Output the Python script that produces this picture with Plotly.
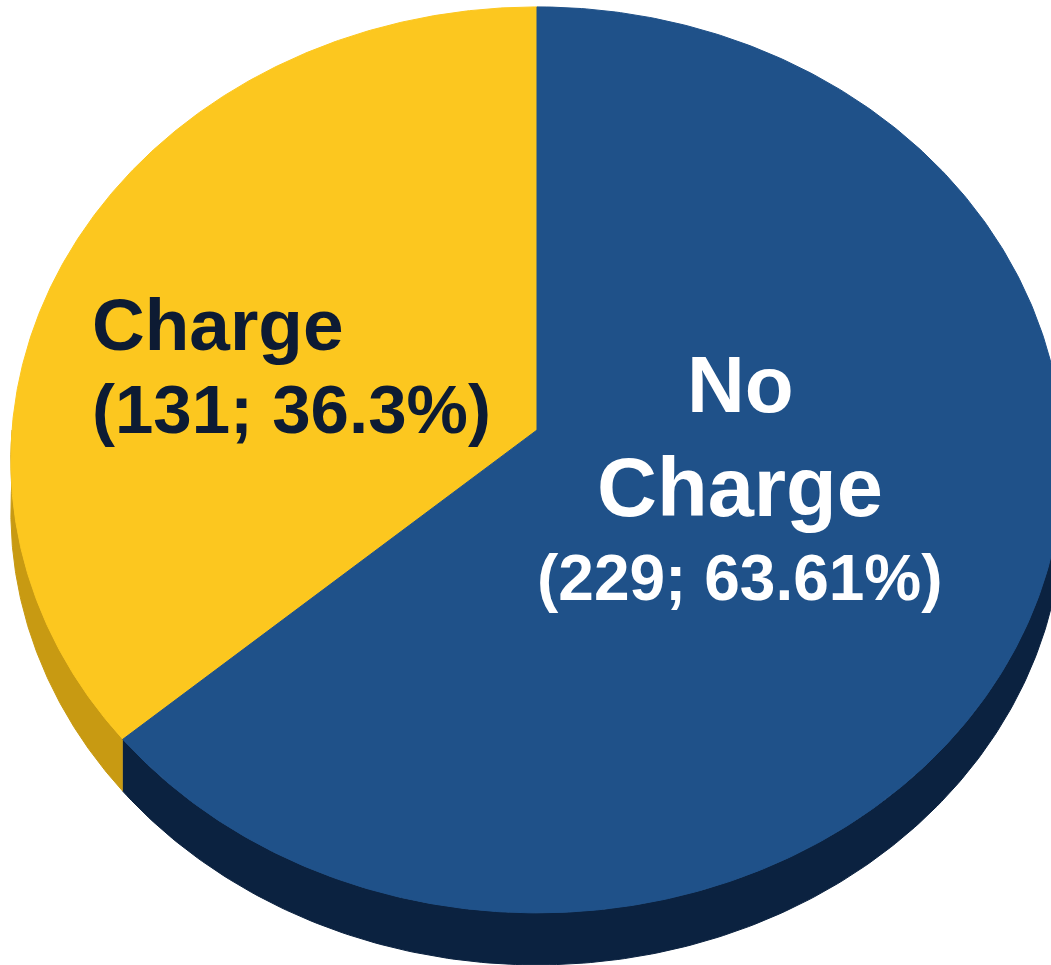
import numpy as np
import plotly.graph_objects as go

# ---- data ----
categories = ["Charge", "No Charge"]
counts = [131, 229]
pct_labels = ["36.3%", "63.61%"]

# ---- style ----
top_colors = ["#FCC71F", "#1F5189"]
side_colors = ["#C89A12", "#0B2240"]
text_colors = ["#0D1B33", "#FFFFFF"]

W, H = 1051, 965
CX, CY = 537, 430          # projected centre of the pie top
A, B, K = 525, 451, 0.066  # perspective ellipse parameters
DEPTH = 52


def proj(t):
    u, v = np.cos(t), np.sin(t)
    s = 1.0 / (1.0 + K * v)
    return CX + A * u * s, CY - B * v * s


total = sum(counts)
angles = []
start = np.pi / 2
for c in counts:
    end = start + 2 * np.pi * c / total
    angles.append((start, end))
    start = end

fig = go.Figure()

# sides (front half only: angles between pi and 2pi)
for i, (a0, a1) in enumerate(angles):
    for off in (0.0, 2 * np.pi):
        lo = max(a0, np.pi + off)
        hi = min(a1, 2 * np.pi + off)
        if hi <= lo:
            continue
        t = np.linspace(lo, hi, 200)
        x, y = proj(t)
        xs = np.concatenate([x, x[::-1]])
        ys = np.concatenate([y, (y + DEPTH)[::-1]])
        fig.add_trace(go.Scatter(x=xs, y=ys, mode="lines", fill="toself",
                                 fillcolor=side_colors[i],
                                 line=dict(color=side_colors[i], width=1),
                                 hoverinfo="skip", showlegend=False))

# top faces
for i, (a0, a1) in enumerate(angles):
    t = np.linspace(a0, a1, 400)
    x, y = proj(t)
    xs = np.concatenate([[CX], x, [CX]])
    ys = np.concatenate([[CY], y, [CY]])
    fig.add_trace(go.Scatter(x=xs, y=ys, mode="lines", fill="toself",
                             fillcolor=top_colors[i],
                             line=dict(color=top_colors[i], width=1),
                             name=categories[i],
                             hoverinfo="skip", showlegend=False))

FONT = "Liberation Sans, Arial, sans-serif"

# label for "Charge" (left, left-aligned)
left_lines = [categories[0], f"({counts[0]}; {pct_labels[0]})"]
left_pos = [(324, 73), (409, 69)]
for txt, (yy, sz) in zip(left_lines, left_pos):
    fig.add_annotation(x=90, y=yy, text=txt, showarrow=False,
                       xanchor="left", yanchor="middle",
                       font=dict(family=FONT, size=sz, color=text_colors[0], weight="bold"))

# label for "No Charge" (right, centred)
right_lines = categories[1].split(" ") + [f"({counts[1]}; {pct_labels[1]})"]
right_pos = [(384, 80), (487, 83), (578, 64)]
for txt, (yy, sz) in zip(right_lines, right_pos):
    fig.add_annotation(x=740, y=yy, text=txt, showarrow=False,
                       xanchor="center", yanchor="middle",
                       font=dict(family=FONT, size=sz, color=text_colors[1], weight="bold"))

fig.update_layout(
    width=W, height=H,
    margin=dict(l=0, r=0, t=0, b=0),
    paper_bgcolor="white", plot_bgcolor="white",
    xaxis=dict(range=[0, W], visible=False, fixedrange=True),
    yaxis=dict(range=[H, 0], visible=False, fixedrange=True),
    showlegend=False,
)

fig.write_html("out.html", config={"displayModeBar": False},
               post_script="document.body.style.margin='0';document.body.style.overflow='hidden';")
